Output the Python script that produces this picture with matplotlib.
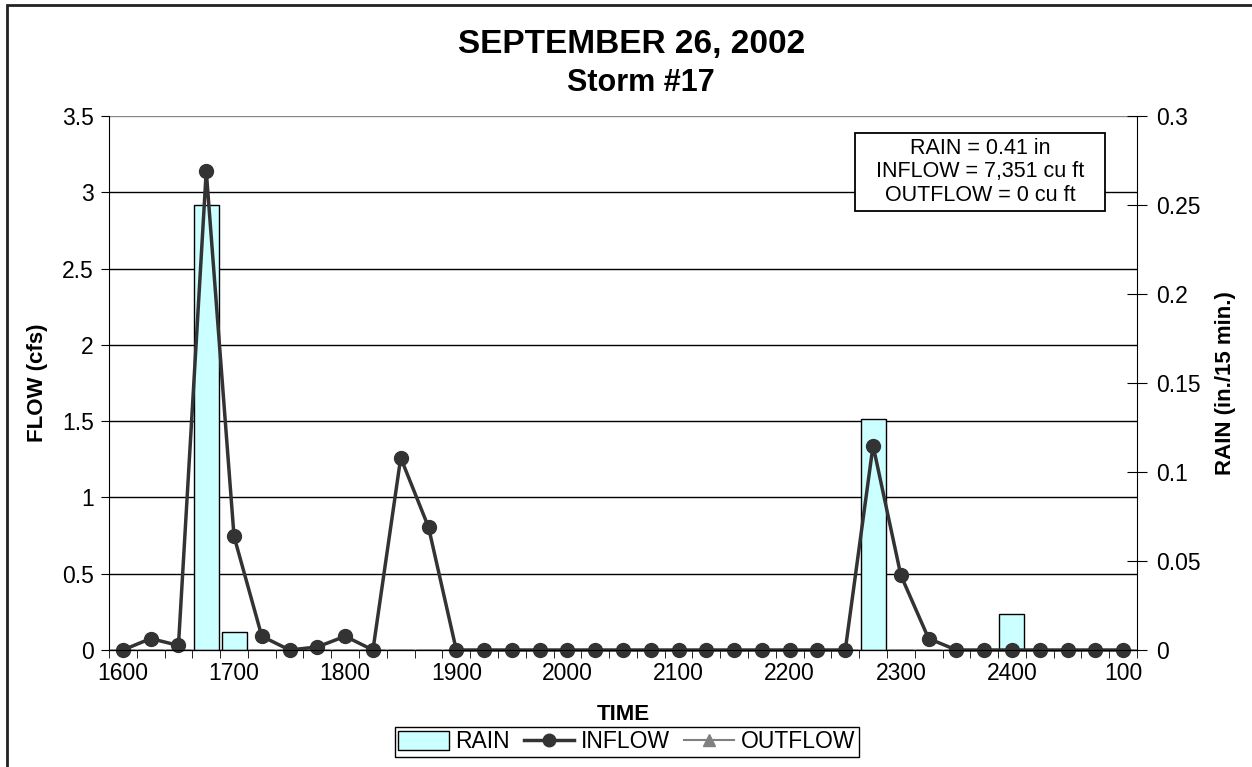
import numpy as np
import matplotlib.pyplot as plt
from matplotlib.patches import Rectangle
from matplotlib.lines import Line2D

plt.rcParams['font.family'] = ['Liberation Sans', 'DejaVu Sans']

####Data####
times = ['1600', '1615', '1630', '1645', '1700', '1715', '1730', '1745',
         '1800', '1815', '1830', '1845', '1900', '1915', '1930', '1945',
         '2000', '2015', '2030', '2045', '2100', '2115', '2130', '2145',
         '2200', '2215', '2230', '2245', '2300', '2315', '2330', '2345',
         '2400', '0015', '0030', '0045', '100']

inflow = [0, 0.075, 0.03, 3.14, 0.745, 0.09, 0, 0.02,
          0.09, 0, 1.26, 0.805, 0, 0, 0, 0,
          0, 0, 0, 0, 0, 0, 0, 0,
          0, 0, 0, 1.34, 0.49, 0.075, 0, 0,
          0, 0, 0, 0, 0]

rain = [0, 0, 0, 0.25, 0.01, 0, 0, 0,
        0, 0, 0, 0, 0, 0, 0, 0,
        0, 0, 0, 0, 0, 0, 0, 0,
        0, 0, 0, 0.13, 0, 0, 0, 0,
        0.02, 0, 0, 0, 0]

outflow = [np.nan] * len(times)   # no outflow recorded

tick_labels = ['1600', '1700', '1800', '1900', '2000', '2100', '2200', '2300', '2400', '100']
flow_ticks = [0, 0.5, 1, 1.5, 2, 2.5, 3, 3.5]
rain_ticks = [0, 0.05, 0.1, 0.15, 0.2, 0.25, 0.3]

summary = 'RAIN = 0.41 in\nINFLOW = 7,351 cu ft\nOUTFLOW = 0 cu ft'

W, H = 1252, 767
fig = plt.figure(figsize=(W / 100, H / 100), dpi=100)

# outer chart border (cropped off on right/bottom)
fig.patches.append(Rectangle((7 / W, -0.05), 1.1, 1 - 5 / H + 0.05,
                             transform=fig.transFigure, fill=False,
                             edgecolor='#222222', linewidth=2))

x = np.arange(len(times))

###three stacked axes: grid (bottom), rain bars, flow line (top)###
ax_grid = fig.add_axes([109 / W, 1 - 650 / H, (1137 - 109) / W, (650 - 116) / H])
ax_rain = ax_grid.twinx()
ax_flow = ax_grid.twinx()
ax_grid.set_zorder(0)
ax_rain.set_zorder(1)
ax_flow.set_zorder(2)
ax_rain.patch.set_visible(False)
ax_flow.patch.set_visible(False)

# gridlines follow the flow scale
ax_grid.set_ylim(0, 3.5)
ax_grid.set_yticks(flow_ticks)
ax_grid.grid(True, axis='y', color='black', linewidth=1)
ax_grid.get_ygridlines()[-1].set_color('#888888')
ax_grid.tick_params(axis='y', left=False, labelleft=False)
for s in ['top', 'left', 'right']:
    ax_grid.spines[s].set_visible(False)
ax_grid.set_xlim(-0.5, len(times) - 0.5)
ax_grid.set_xticks(x[::4])
ax_grid.set_xticklabels(tick_labels, fontsize=16.5)
ax_grid.set_xticks(np.arange(-0.5, len(times), 1), minor=True)
ax_grid.tick_params(axis='x', which='major', length=0, pad=9)
ax_grid.tick_params(axis='x', which='minor', length=6, direction='out')
ax_grid.set_xlabel('TIME', fontsize=16, fontweight='bold', labelpad=13)

bars = ax_rain.bar(x, rain, width=0.9, color='#CCFFFF', edgecolor='black',
                   linewidth=1, label='RAIN')
ax_rain.set_ylim(0, 0.3)
ax_rain.set_yticks(rain_ticks)
ax_rain.set_yticklabels(['0', '0.05', '0.1', '0.15', '0.2', '0.25', '0.3'])
ax_rain.tick_params(axis='y', labelsize=16.5, length=14, direction='inout', pad=7)
ax_rain.set_ylabel('RAIN (in./15 min.)', fontsize=16, fontweight='bold', labelpad=10)
for s in ['top', 'left']:
    ax_rain.spines[s].set_visible(False)

ax_flow.plot(x, outflow, color='gray', marker='^', markersize=9, linewidth=1.5, label='OUTFLOW')
ax_flow.plot(x, inflow, color='#333333', marker='o', markersize=10, linewidth=2.5,
             label='INFLOW', clip_on=False)
ax_flow.set_ylim(0, 3.5)
ax_flow.set_yticks(flow_ticks)
ax_flow.set_yticklabels(['0', '0.5', '1', '1.5', '2', '2.5', '3', '3.5'])
ax_flow.yaxis.tick_left()
ax_flow.yaxis.set_label_position('left')
ax_flow.tick_params(axis='y', labelsize=16.5, length=6, direction='out', pad=5)
ax_flow.set_ylabel('FLOW (cfs)', fontsize=16, fontweight='bold', labelpad=10)
ax_flow.spines['top'].set_visible(False)
ax_flow.spines['right'].set_visible(False)

fig.text(632 / W, 1 - 45 / H, 'SEPTEMBER 26, 2002', ha='center', va='center',
         fontsize=24, fontweight='bold')
fig.text(641 / W, 1 - 83 / H, 'Storm #17', ha='center', va='center',
         fontsize=22, fontweight='bold')

# summary box
box = Rectangle((855 / W, 1 - 211 / H), 250 / W, 78 / H, transform=fig.transFigure,
                facecolor='white', edgecolor='black', linewidth=1.3, zorder=5)
fig.patches.append(box)
fig.text(980 / W, 1 - 172 / H, summary, ha='center', va='center', fontsize=15.5,
         linespacing=1.15, zorder=6)

handles = [bars,
           Line2D([], [], color='#333333', marker='o', markersize=9, linewidth=2.5),
           Line2D([], [], color='gray', marker='^', markersize=9, linewidth=1.5)]
fig.legend(handles, ['RAIN', 'INFLOW', 'OUTFLOW'], loc='center',
           bbox_to_anchor=(627 / W, 1 - 742 / H), ncol=3, fontsize=16.5,
           frameon=True, fancybox=False, edgecolor='black', framealpha=1,
           handlelength=2.2, handletextpad=0.3, columnspacing=0.6,
           borderpad=0.15, handleheight=0.9)

plt.savefig('out.png', dpi=100)
